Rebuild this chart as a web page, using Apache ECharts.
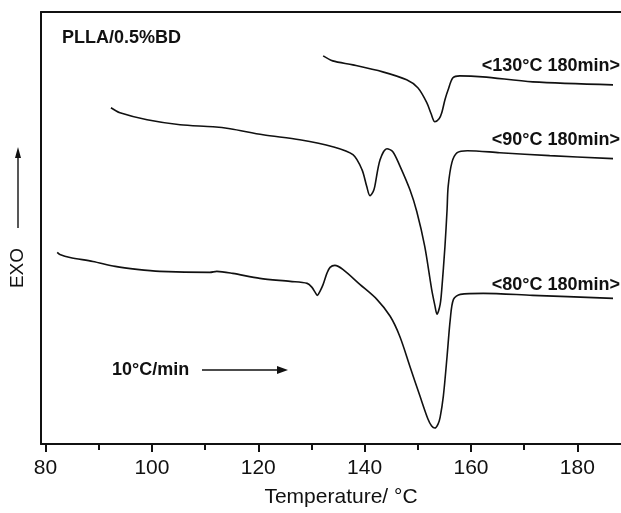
<!DOCTYPE html>
<html>
<head>
<meta charset="utf-8">
<script src="https://cdn.jsdelivr.net/npm/echarts@6/dist/echarts.min.js"></script>
<style>
  html, body { margin: 0; padding: 0; background: #fff; }
  #chart { width: 621px; height: 513px; }
</style>
</head>
<body>
<div id="chart"></div>
<script>
'use strict';

// DSC heating scans, temperature (°C) vs. heat flow (arbitrary units, exo up)
const t130 = [132.2, 134.0, 137.8, 143.4, 147.9, 150.0, 151.7, 152.5, 153.2, 154.0, 154.5, 155.1, 155.7, 156.6, 157.9, 162.2, 171.6, 186.7];
const s130 = [389, 384, 380, 373, 365, 357, 342, 331, 323, 326, 332, 345, 355, 367, 369, 368, 363, 360];

const t90 = [92.3, 94.0, 99.1, 105.3, 111.5, 114.7, 120.9, 127.8, 134.0, 137.8, 139.5, 140.4, 141.0, 141.6, 141.9, 142.9, 144.2, 145.3, 146.6, 148.5, 149.8, 151.3, 152.6, 153.2, 153.6, 154.2, 154.5, 155.1, 155.5, 155.7, 156.4, 157.4, 159.3, 165.4, 174.8, 186.7];
const s90 = [337, 332, 325, 320, 318, 316, 310, 305, 298, 290, 275, 258, 249, 253, 258, 285, 296, 293, 279, 255, 233, 198, 155, 139, 130, 140, 155, 198, 235, 258, 282, 292, 294, 292, 289, 286];

const t80 = [82.2, 82.7, 84.6, 88.9, 93.1, 97.2, 101.5, 110.9, 112.2, 115.2, 120.3, 126.0, 129.2, 130.1, 130.7, 131.1, 131.6, 132.2, 132.9, 133.5, 134.4, 135.9, 139.1, 142.3, 144.8, 146.6, 148.5, 150.4, 151.9, 152.6, 153.2, 153.8, 154.2, 154.8, 155.5, 156.1, 156.7, 158.0, 162.3, 171.6, 186.7];
const s80 = [192, 190, 187, 183, 178, 175, 173, 172, 173, 171, 166, 163, 161, 157, 152, 149, 153, 160, 171, 177, 179, 175, 160, 145, 128, 108, 78, 48, 25, 18, 16, 20, 27, 48, 88, 125, 145, 150, 151, 149, 146];

const majorTicks = [80, 100, 120, 140, 160, 180];
const minorTicks = [90, 110, 130, 150, 170];

const zip = (xs, ys) => xs.map((x, i) => [x, ys[i]]);

const FONT = '"Liberation Sans", Arial, sans-serif';
const INK = '#111';

const curve = (name, xs, ys) => ({
    name,
    type: 'line',
    data: zip(xs, ys),
    smooth: 0.3,
    showSymbol: false,
    silent: true,
    lineStyle: {color: INK, width: 1.6}
});

const label = (text, x, y, extra) => ({
    type: 'text',
    x, y,
    style: Object.assign({
        text, fill: INK, font: 'bold 18px ' + FONT,
        textVerticalAlign: 'middle'
    }, extra || {})
});

const chart = echarts.init(document.getElementById('chart'), null, {renderer: 'canvas'});

chart.setOption({
    animation: false,
    backgroundColor: '#fff',
    grid: {left: 41, right: 0, top: 12, bottom: 68, containLabel: false},
    xAxis: [{
        type: 'value',
        min: 79.15,
        max: 188.2,
        position: 'bottom',
        name: 'Temperature/ °C',
        nameLocation: 'middle',
        nameGap: 43,
        nameTextStyle: {color: INK, fontSize: 21, fontFamily: FONT, padding: [0, 0, 0, 20]},
        axisLine: {lineStyle: {color: INK, width: 2}},
        axisTick: {show: true, customValues: majorTicks, length: 8, lineStyle: {color: INK, width: 2}},
        axisLabel: {customValues: majorTicks, color: INK, fontSize: 21, fontFamily: FONT, margin: 14},
        splitLine: {show: false}
    }, {
        type: 'value',
        min: 79.15,
        max: 188.2,
        position: 'bottom',
        axisLine: {show: false},
        axisTick: {show: true, customValues: minorTicks, length: 6, lineStyle: {color: INK, width: 2}},
        axisLabel: {show: false},
        splitLine: {show: false}
    }, {
        type: 'value',
        min: 79.15,
        max: 188.2,
        position: 'top',
        axisLine: {lineStyle: {color: INK, width: 2}},
        axisTick: {show: false},
        axisLabel: {show: false},
        splitLine: {show: false}
    }],
    yAxis: {
        type: 'value',
        min: 0,
        max: 433,
        axisLine: {show: true, lineStyle: {color: INK, width: 2}},
        axisTick: {show: false},
        axisLabel: {show: false},
        splitLine: {show: false}
    },
    series: [
        curve('<130°C 180min>', t130, s130),
        curve('<90°C 180min>', t90, s90),
        curve('<80°C 180min>', t80, s80)
    ],
    graphic: [
        label('PLLA/0.5%BD', 62, 38),
        label('<130°C 180min>', 620, 66, {textAlign: 'right'}),
        label('<90°C 180min>', 620, 140, {textAlign: 'right'}),
        label('<80°C 180min>', 620, 285, {textAlign: 'right'}),
        label('10°C/min', 112, 370),
        {type: 'line', shape: {x1: 202, y1: 370, x2: 280, y2: 370}, style: {stroke: INK, lineWidth: 1.4}},
        {type: 'polygon', shape: {points: [[288, 370], [277, 366], [277, 374]]}, style: {fill: INK}},
        {
            type: 'text', x: 18, y: 268, rotation: Math.PI / 2,
            style: {text: 'EXO', fill: INK, font: '19px ' + FONT, textAlign: 'center', textVerticalAlign: 'middle'}
        },
        {type: 'line', shape: {x1: 18, y1: 228, x2: 18, y2: 156}, style: {stroke: INK, lineWidth: 1.4}},
        {type: 'polygon', shape: {points: [[18, 147], [15, 158], [21, 158]]}, style: {fill: INK}}
    ]
});
</script>
</body>
</html>
